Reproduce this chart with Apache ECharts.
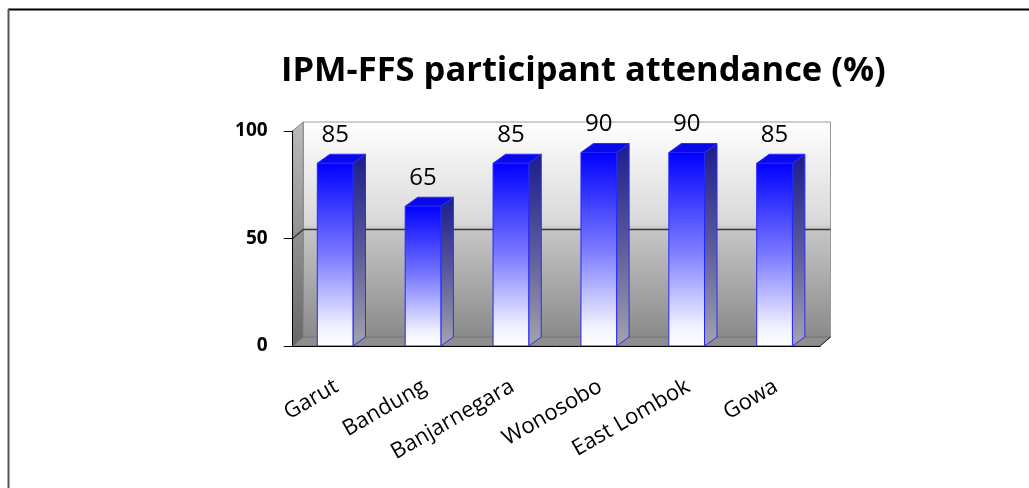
<!DOCTYPE html>
<html>
<head>
<meta charset="utf-8">
<title>IPM-FFS participant attendance (%)</title>
<script src="https://cdn.jsdelivr.net/npm/echarts@6/dist/echarts.min.js"></script>
<style>
  html, body { margin: 0; padding: 0; background: #ffffff; }
  #chart { width: 1029px; height: 488px; }
</style>
</head>
<body>
<div id="chart"></div>
<script>
// District names and the share of farmers attending each field school session
const categories = ['Garut', 'Bandung', 'Banjarnegara', 'Wonosobo', 'East Lombok', 'Gowa'];
const attendance = [85, 65, 85, 90, 90, 85];
const yTicks = [0, 50, 100];

// Oblique offset used for the pseudo-3D depth of walls and columns
const DEPTH_X = 10.5;
const DEPTH_Y = -9;

const FONT = '"Open Sans", Lato, sans-serif';

const chart = echarts.init(document.getElementById('chart'), null, { renderer: 'canvas' });

// Back wall, side wall, floor and gridlines of the 3D plot area
function renderWalls(params, api) {
  const cs = params.coordSys;
  const xL = cs.x, xR = cs.x + cs.width;
  const yTop = api.coord([0, yTicks[yTicks.length - 1]])[1];
  const yBot = api.coord([0, yTicks[0]])[1];
  const children = [];

  children.push({
    type: 'rect',
    shape: { x: xL + DEPTH_X, y: yTop + DEPTH_Y, width: xR - xL, height: yBot - yTop },
    style: {
      fill: new echarts.graphic.LinearGradient(0, 0, 0, 1, [
        { offset: 0, color: '#ffffff' },
        { offset: 0.47, color: '#d8d8d8' },
        { offset: 0.5, color: '#c6c6c6' },
        { offset: 1, color: '#8a8a8a' }
      ]),
      stroke: '#9a9a9a', lineWidth: 1
    }
  });

  children.push({
    type: 'polygon',
    shape: { points: [[xL, yTop], [xL + DEPTH_X, yTop + DEPTH_Y], [xL + DEPTH_X, yBot + DEPTH_Y], [xL, yBot]] },
    style: {
      fill: new echarts.graphic.LinearGradient(0, 0, 0, 1, [
        { offset: 0, color: '#bcbcbc' },
        { offset: 1, color: '#666666' }
      ]),
      stroke: '#808080', lineWidth: 1
    }
  });

  children.push({
    type: 'polygon',
    shape: { points: [[xL, yBot], [xR, yBot], [xR + DEPTH_X, yBot + DEPTH_Y], [xL + DEPTH_X, yBot + DEPTH_Y]] },
    style: { fill: '#8e8e8e', stroke: '#6e6e6e', lineWidth: 1 }
  });

  yTicks.forEach(function (t) {
    if (t === yTicks[0] || t === yTicks[yTicks.length - 1]) return;
    const y = api.coord([0, t])[1];
    children.push({
      type: 'polyline',
      shape: { points: [[xL, y], [xL + DEPTH_X, y + DEPTH_Y], [xR + DEPTH_X, y + DEPTH_Y]] },
      style: { stroke: '#3a3a3a', lineWidth: 1.6, fill: null }
    });
  });

  // right floor edge continuing the category axis
  children.push({
    type: 'line',
    shape: { x1: xR, y1: yBot, x2: xR + DEPTH_X, y2: yBot + DEPTH_Y },
    style: { stroke: '#222222', lineWidth: 1 }
  });

  return { type: 'group', children: children };
}

// One pseudo-3D column per district with its value printed above it
function renderColumn(params, api) {
  const idx = api.value(0);
  const val = api.value(1);
  const top = api.coord([idx, val]);
  const base = api.coord([idx, 0]);
  const band = api.size([1, 0])[0];
  const w = band * 0.406;
  const cx = top[0] - band * 0.017;
  const x0 = cx - w / 2, x1 = cx + w / 2;
  const yT = top[1], yB = base[1];

  return {
    type: 'group',
    children: [
      {
        type: 'polygon',
        shape: { points: [[x1, yT], [x1 + DEPTH_X + 2, yT + DEPTH_Y], [x1 + DEPTH_X + 2, yB + DEPTH_Y], [x1, yB]] },
        style: {
          fill: new echarts.graphic.LinearGradient(0, 0, 0, 1, [
            { offset: 0, color: '#1c1c8c' },
            { offset: 0.5, color: '#5a5a9c' },
            { offset: 1, color: '#a4a4ac' }
          ]),
          stroke: '#2b2bff', lineWidth: 1
        }
      },
      {
        type: 'polygon',
        shape: { points: [[x0, yT], [x1, yT], [x1 + DEPTH_X + 2, yT + DEPTH_Y], [x0 + DEPTH_X + 2, yT + DEPTH_Y]] },
        style: { fill: '#0a0ae8', stroke: '#2b2bff', lineWidth: 1 }
      },
      {
        type: 'rect',
        shape: { x: x0, y: yT, width: w, height: yB - yT },
        style: {
          fill: new echarts.graphic.LinearGradient(0, 0, 0, 1, [
            { offset: 0, color: '#0000ff' },
            { offset: 0.5, color: '#7a7aff' },
            { offset: 0.9, color: '#f2f2ff' },
            { offset: 1, color: '#ffffff' }
          ]),
          stroke: '#2626ff', lineWidth: 1
        }
      },
      {
        type: 'text',
        style: {
          x: cx, y: yT - 28,
          text: String(val),
          fill: '#000000',
          font: '500 24px ' + FONT,
          align: 'center', verticalAlign: 'middle'
        }
      }
    ]
  };
}

chart.setOption({
  animation: false,
  backgroundColor: '#ffffff',
  title: {
    text: 'IPM-FFS participant attendance (%)',
    left: 276,
    top: 49,
    textStyle: { fontFamily: FONT, fontWeight: 'bold', fontSize: 34.5, color: '#000000' }
  },
  grid: { left: 292.7, right: 209, top: 131, bottom: 142 },
  xAxis: {
    type: 'category',
    data: categories,
    axisLine: { lineStyle: { color: '#000000', width: 1 } },
    axisTick: { length: 8, lineStyle: { color: '#000000' } },
    axisLabel: { rotate: 30, margin: 39, color: '#000000', fontFamily: FONT, fontSize: 22, interval: 0 },
    splitLine: { show: false },
    z: 5
  },
  yAxis: {
    type: 'value',
    min: yTicks[0],
    max: yTicks[yTicks.length - 1],
    interval: yTicks[1] - yTicks[0],
    axisLine: { show: true, lineStyle: { color: '#000000', width: 1 } },
    axisTick: { show: true, length: 9, lineStyle: { color: '#000000' } },
    axisLabel: { margin: 25, color: '#000000', fontFamily: FONT, fontWeight: 'bold', fontSize: 19 },
    splitLine: { show: false },
    z: 5
  },
  graphic: [
    { type: 'line', shape: { x1: 8, y1: 9.5, x2: 1029, y2: 9.5 }, style: { stroke: '#000000', lineWidth: 2 }, z: 10 },
    { type: 'line', shape: { x1: 8.5, y1: 9, x2: 8.5, y2: 488 }, style: { stroke: '#555555', lineWidth: 2 }, z: 10 }
  ],
  series: [
    {
      type: 'custom',
      name: 'walls',
      renderItem: renderWalls,
      data: [[0, 0]],
      encode: { x: 0, y: 1 },
      silent: true,
      z: 1
    },
    {
      type: 'custom',
      name: 'Attendance',
      renderItem: renderColumn,
      data: attendance.map(function (v, i) { return [i, v]; }),
      encode: { x: 0, y: 1 },
      z: 3
    }
  ]
});
</script>
</body>
</html>
